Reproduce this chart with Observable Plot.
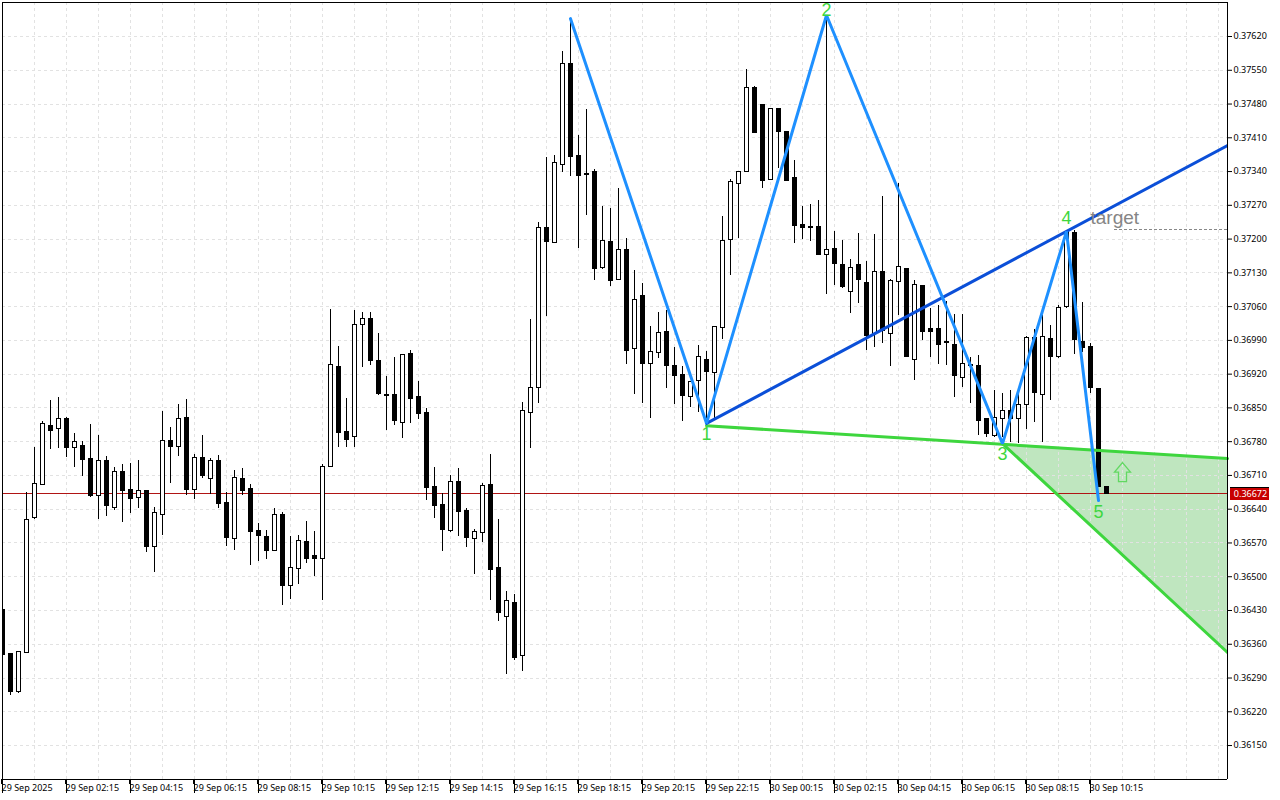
<!DOCTYPE html>
<html><head><meta charset="utf-8">
<style>html,body{margin:0;padding:0;background:#fff}svg{display:block}</style>
<script src="https://cdn.jsdelivr.net/npm/d3@7"></script>
<script src="https://cdn.jsdelivr.net/npm/@observablehq/plot@0.6"></script>
</head><body><div id="chart"></div>
<script>
const open=[0.36432,0.36339,0.36262,0.36341,0.36621,0.36691,0.36813,0.36807,0.36828,0.36766,
0.36772,0.36745,0.36668,0.36739,0.36643,0.36718,0.36679,0.36664,0.36677,0.36561,
0.36627,0.36782,0.36768,0.36830,0.36679,0.36747,0.36702,0.36739,0.36652,0.36579,
0.36702,0.36681,0.36594,0.36583,0.36554,0.36627,0.36480,0.36517,0.36573,0.36542,
0.36536,0.36728,0.36934,0.36801,0.36789,0.37021,0.37035,0.36948,0.36876,0.36876,
0.36818,0.36961,0.36872,0.36840,0.36685,0.36648,0.36594,0.36697,0.36637,0.36579,
0.36590,0.36691,0.36519,0.36417,0.36446,0.36335,0.36840,0.36892,0.37222,0.37191,
0.37353,0.37562,0.37373,0.37334,0.37340,0.37141,0.37193,0.37116,0.37178,0.36973,
0.37081,0.36940,0.36963,0.37008,0.36936,0.36919,0.36872,0.36905,0.36950,0.36923,
0.37015,0.37199,0.37315,0.37340,0.37514,0.37479,0.37323,0.37469,0.37423,0.37326,
0.37230,0.37226,0.37226,0.37168,0.37180,0.37147,0.37091,0.37147,0.37108,0.37004,
0.37131,0.37004,0.37112,0.37137,0.36950,0.37102,0.37013,0.37013,0.36986,0.36981,
0.36913,0.36938,0.36936,0.36826,0.36791,0.36828,0.36843,0.36826,0.36857,0.36994,
0.36876,0.36992,0.36955,0.37060,0.37212,0.36986,0.36977,0.36890,0.36685];
const high=[0.36432,0.36339,0.36343,0.36675,0.36768,0.36822,0.36865,0.36872,0.36830,0.36797,
0.36780,0.36816,0.36793,0.36749,0.36726,0.36733,0.36735,0.36741,0.36677,0.36643,
0.36843,0.36809,0.36857,0.36867,0.36753,0.36793,0.36745,0.36751,0.36675,0.36720,
0.36724,0.36691,0.36610,0.36596,0.36641,0.36633,0.36583,0.36585,0.36614,0.36594,
0.36733,0.37054,0.36977,0.36869,0.37052,0.37048,0.37048,0.37004,0.36915,0.36955,
0.36961,0.36969,0.36905,0.36849,0.36726,0.36673,0.36710,0.36724,0.36641,0.36598,
0.36693,0.36753,0.36619,0.36469,0.36463,0.36861,0.37033,0.37234,0.37369,0.37373,
0.37589,0.37657,0.37415,0.37469,0.37344,0.37268,0.37263,0.37305,0.37201,0.37135,
0.37108,0.37019,0.37048,0.37052,0.36975,0.36936,0.36903,0.36979,0.36967,0.37017,
0.37247,0.37323,0.37340,0.37552,0.37516,0.37479,0.37469,0.37469,0.37423,0.37363,
0.37268,0.37272,0.37280,0.37664,0.37216,0.37197,0.37158,0.37212,0.37154,0.37209,
0.37288,0.37116,0.37315,0.37137,0.37114,0.37102,0.37056,0.37062,0.37071,0.37044,
0.37044,0.36955,0.36959,0.36826,0.36886,0.36880,0.36886,0.36880,0.36998,0.37013,
0.37042,0.37021,0.37062,0.37216,0.37218,0.37069,0.36984,0.36890,0.36685];
const low=[0.36337,0.36254,0.36258,0.36341,0.36619,0.36691,0.36764,0.36766,0.36747,0.36726,
0.36708,0.36664,0.36619,0.36625,0.36637,0.36612,0.36631,0.36641,0.36550,0.36509,
0.36585,0.36693,0.36749,0.36668,0.36660,0.36704,0.36670,0.36641,0.36563,0.36554,
0.36668,0.36523,0.36532,0.36536,0.36554,0.36440,0.36453,0.36484,0.36527,0.36501,
0.36451,0.36728,0.36768,0.36768,0.36768,0.36934,0.36938,0.36876,0.36803,0.36813,
0.36787,0.36818,0.36826,0.36658,0.36621,0.36552,0.36592,0.36583,0.36561,0.36505,
0.36571,0.36451,0.36407,0.36297,0.36326,0.36303,0.36766,0.36859,0.37039,0.37191,
0.37338,0.37330,0.37180,0.37249,0.37114,0.37137,0.37102,0.37116,0.36940,0.36878,
0.36859,0.36828,0.36952,0.36890,0.36857,0.36822,0.36851,0.36840,0.36818,0.36825,
0.36992,0.37124,0.37201,0.37340,0.37419,0.37305,0.37323,0.37346,0.37321,0.37191,
0.37199,0.37195,0.37168,0.37085,0.37104,0.37098,0.37046,0.37066,0.36969,0.36975,
0.36984,0.36936,0.37042,0.36955,0.36907,0.36990,0.36955,0.36940,0.36938,0.36872,
0.36892,0.36859,0.36793,0.36789,0.36789,0.36789,0.36778,0.36776,0.36805,0.36820,
0.36778,0.36865,0.36952,0.37056,0.36961,0.36965,0.36880,0.36685,0.36672];
const close=[0.36337,0.36260,0.36343,0.36617,0.36693,0.36816,0.36803,0.36828,0.36766,0.36780,
0.36741,0.36668,0.36739,0.36646,0.36718,0.36677,0.36662,0.36677,0.36561,0.36633,
0.36782,0.36768,0.36828,0.36679,0.36747,0.36708,0.36739,0.36650,0.36581,0.36704,
0.36677,0.36592,0.36585,0.36554,0.36627,0.36480,0.36519,0.36575,0.36536,0.36536,
0.36728,0.36938,0.36797,0.36784,0.37021,0.37035,0.36948,0.36878,0.36874,0.36822,
0.36959,0.36869,0.36838,0.36683,0.36646,0.36596,0.36697,0.36635,0.36581,0.36592,
0.36689,0.36513,0.36424,0.36449,0.36332,0.36843,0.36892,0.37224,0.37193,0.37357,
0.37562,0.37371,0.37330,0.37332,0.37137,0.37195,0.37114,0.37178,0.36967,0.37073,
0.36940,0.36965,0.37006,0.36936,0.36917,0.36874,0.36903,0.36955,0.36925,0.37017,
0.37197,0.37319,0.37340,0.37514,0.37419,0.37321,0.37469,0.37421,0.37321,0.37228,
0.37222,0.37224,0.37168,0.37178,0.37149,0.37100,0.37141,0.37116,0.37000,0.37131,
0.37010,0.37114,0.37143,0.36955,0.37104,0.37008,0.37008,0.36981,0.36984,0.36917,
0.36942,0.36936,0.36822,0.36795,0.36830,0.36843,0.36826,0.36857,0.36994,0.36880,
0.36996,0.36955,0.37058,0.37214,0.36990,0.36975,0.36892,0.36685,0.36672];

const priceTicks=[0.37620,0.37550,0.37480,0.37410,0.37340,0.37270,0.37200,0.37130,0.37060,0.36990,0.36920,
0.36850,0.36780,0.36710,0.36640,0.36570,0.36500,0.36430,0.36360,0.36290,0.36220,0.36150];
const timeLabels=["29 Sep 2025","29 Sep 02:15","29 Sep 04:15","29 Sep 06:15","29 Sep 08:15","29 Sep 10:15",
"29 Sep 12:15","29 Sep 14:15","29 Sep 16:15","29 Sep 18:15","29 Sep 20:15","29 Sep 22:15","30 Sep 00:15",
"30 Sep 02:15","30 Sep 04:15","30 Sep 06:15","30 Sep 08:15","30 Sep 10:15"];
const timeTickIndex=timeLabels.map((_,k)=>k*8);
const hourGridIndex=d3.range(4,153,4);

const lastIndex=153.125;           // right-hand edge of the chart window, in bars
const lastPrice=0.36672;
const targetPrice=0.37220;

const zigzagIndex=[71,88,103,125,133,137];
const zigzagPrice=[0.37657,0.36818,0.37664,0.36776,0.37216,0.36658];
const zigzag=zigzagIndex.map((i,k)=>({i,p:zigzagPrice[k]}));

const upperLine=[{i:88,p:0.36818},{i:lastIndex,p:0.37394}];
const lowerLine=[{i:88,p:0.36813},{i:lastIndex,p:0.36745}];
const fallLine=[{i:125,p:0.36776},{i:lastIndex,p:0.36343}];
const wedge=[{i:125,a:0.36776,b:0.36776},{i:lastIndex,a:0.36745,b:0.36343}];

const waveLabels=["1","2","3","4","5"];
const waveIndex=[88,103,125,133,137];
const wavePrice=[0.36795,0.37675,0.36753,0.37243,0.36633];
const waves=waveLabels.map((t,k)=>({t,i:waveIndex[k],p:wavePrice[k]}));

const candles=open.map((o,i)=>({i,open:o,high:high[i],low:low[i],close:close[i]}));
const bull=candles.filter(d=>d.close>d.open);
const bear=candles.filter(d=>d.close<=d.open);

const green="#3ed63e", font="'Noto Sans','Liberation Sans',Arial,sans-serif";
const crisp={shapeRendering:"crispEdges"};
const gridStyle={stroke:"#e2e2e2",strokeWidth:1,strokeDasharray:"3,3",strokeOpacity:1,...crisp};
const arrowUp={draw(c){c.moveTo(0,-9.5);c.lineTo(8,0);c.lineTo(4,0);c.lineTo(4,9.5);c.lineTo(-4,9.5);c.lineTo(-4,0);c.lineTo(-8,0);c.closePath();}};

const chart=Plot.plot({
  width:1280,height:800,
  marginLeft:2,marginRight:53,marginTop:2,marginBottom:21,
  style:{fontFamily:font,background:"#fff",overflow:"visible"},
  x:{type:"linear",domain:[0,lastIndex]},
  y:{type:"linear",domain:[0.360796,0.376905]},
  marks:[
    Plot.areaY(wedge,{x:"i",y1:"a",y2:"b",fill:"#bfe6bf",fillOpacity:1}),
    Plot.ruleY(priceTicks,{...gridStyle}),
    Plot.ruleX(hourGridIndex,{...gridStyle}),
    Plot.ruleY([lastPrice],{stroke:"#b01414",strokeWidth:1,...crisp}),
    Plot.ruleX(candles,{x:"i",y1:"low",y2:"high",stroke:"#000",strokeWidth:1,clip:"frame",...crisp}),
    Plot.rect(bull,{x1:d=>d.i-0.25,x2:d=>d.i+0.25,y1:"open",y2:"close",fill:"#fff",stroke:"#000",strokeWidth:1,dx:0.5,clip:"frame",...crisp}),
    Plot.rect(bear,{x1:d=>d.i-0.25,x2:d=>d.i+0.25,y1:"open",y2:"close",fill:"#000",stroke:"#000",strokeWidth:1,dx:0.5,clip:"frame",...crisp}),
    Plot.ruleY([targetPrice],{x1:139,x2:lastIndex,stroke:"#888",strokeWidth:1,strokeDasharray:"3,2",...crisp}),
    Plot.line(lowerLine,{x:"i",y:"p",stroke:green,strokeWidth:3}),
    Plot.line(fallLine,{x:"i",y:"p",stroke:green,strokeWidth:3,clip:"frame"}),
    Plot.line(upperLine,{x:"i",y:"p",stroke:"#0b4fd8",strokeWidth:3,clip:"frame"}),
    Plot.line(zigzag,{x:"i",y:"p",stroke:"#1e90ff",strokeWidth:3,strokeLinejoin:"miter"}),
    Plot.text(waves,{x:"i",y:"p",text:"t",fill:"#3ed63e",fontSize:18,fontFamily:"'Liberation Sans'",textAnchor:"middle",lineAnchor:"middle"}),
    Plot.text(["target"],{x:[136],y:[0.37243],text:d=>d,fill:"#858585",fontSize:19,fontFamily:"'Liberation Sans'",textAnchor:"start",lineAnchor:"middle"}),
    Plot.dot([{i:140,p:0.36717}],{x:"i",y:"p",symbol:arrowUp,stroke:"#62d862",strokeWidth:1.3,fill:"none"}),
    Plot.axisY(priceTicks,{anchor:"right",tickSize:4,tickPadding:2,tickFormat:d3.format(".5f"),fontSize:9,color:"#000",label:null}),
    Plot.axisX(timeTickIndex,{anchor:"bottom",tickSize:5,tickPadding:0,tickFormat:i=>timeLabels[i/8],textAnchor:"start",dx:-1,fontSize:9,color:"#000",label:null}),
    Plot.ruleX(timeTickIndex,{y1:0.360796,y2:0.3605,stroke:"#000",strokeWidth:1,clip:false,...crisp}),
    Plot.ruleX([0,lastIndex],{stroke:"#000",strokeWidth:1,...crisp}),
    Plot.ruleY([0.376905,0.360796],{stroke:"#000",strokeWidth:1,...crisp}),
    Plot.ruleY([lastPrice],{x1:153.5,x2:158.4,stroke:"#c80000",strokeWidth:12,...crisp}),
    Plot.ruleY([lastPrice],{x1:153.5,x2:158.4,dy:-6.5,stroke:"#000",strokeWidth:1,...crisp}),
    Plot.text([lastPrice],{x:[156],y:d=>d,text:d=>d3.format(".5f")(d),fill:"#fff",fontSize:9,textAnchor:"middle",lineAnchor:"middle"})
  ]
});
document.getElementById("chart").appendChild(chart);
</script></body></html>
